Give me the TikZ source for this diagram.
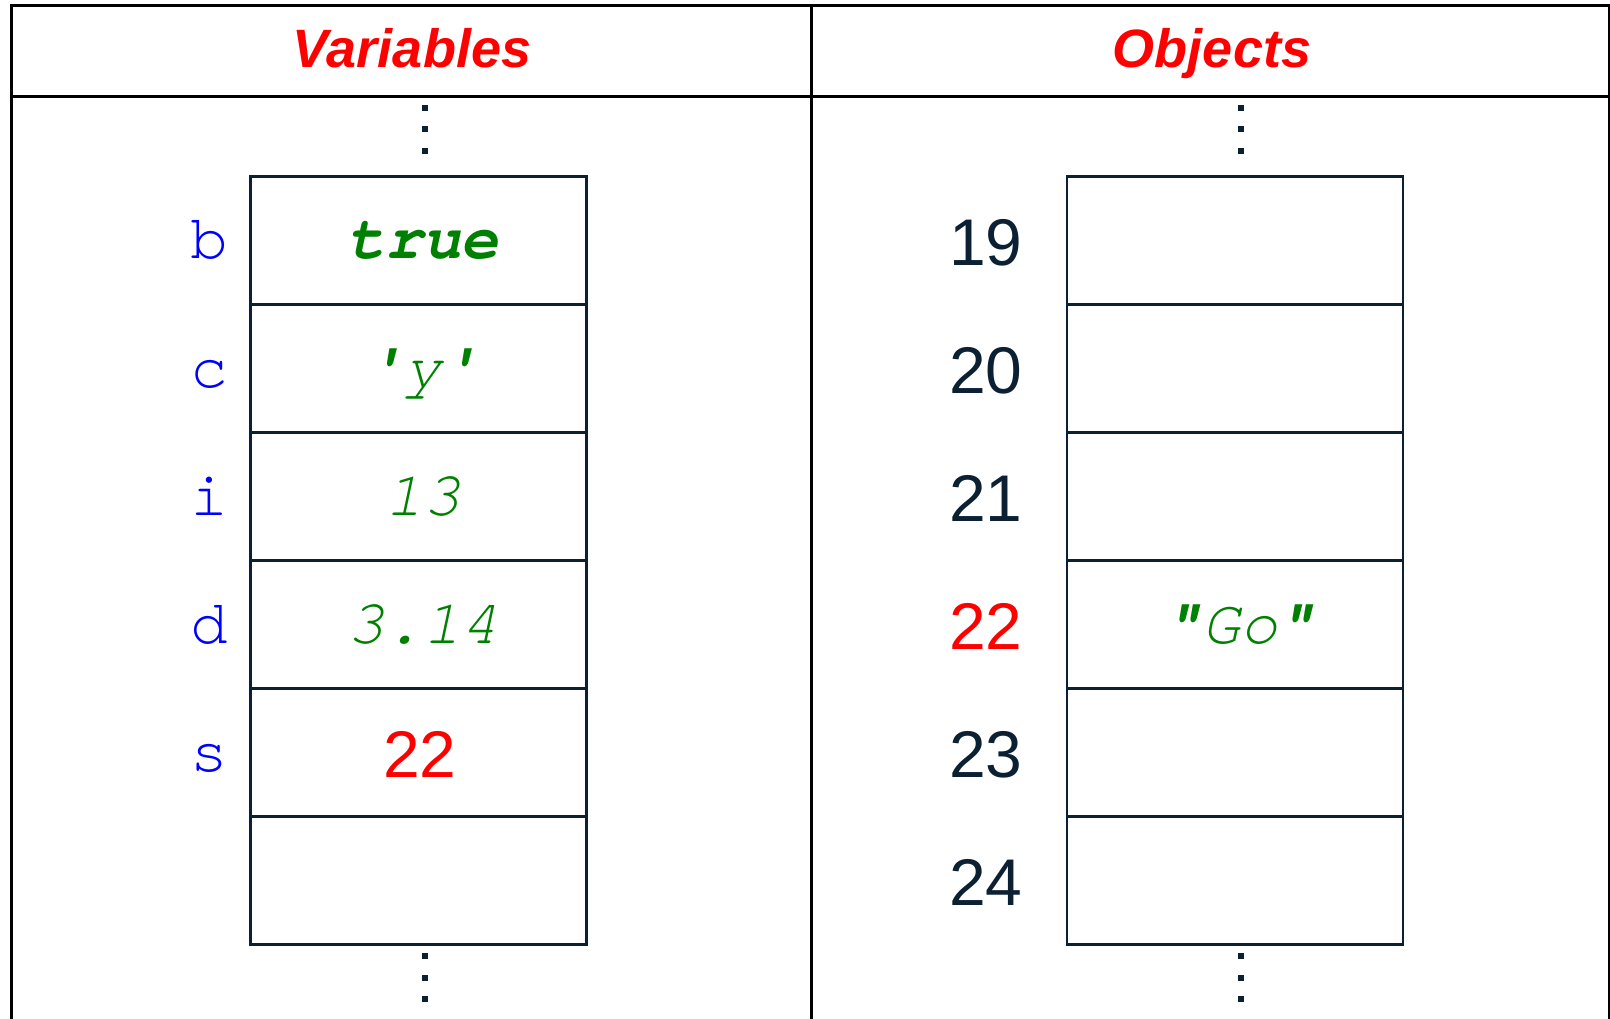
\documentclass[tikz,border=0pt]{standalone}
\usepackage{fontspec}
\usepackage{tikz}
\usetikzlibrary{positioning}
\setmainfont{Liberation Sans}
\setmonofont{texgyrecursor}[Extension=.otf, UprightFont=*-regular, BoldFont=*-bold, ItalicFont=*-italic, BoldItalicFont=*-bolditalic]
\definecolor{Cell_Ink}{HTML}{0C2034}
\definecolor{Name_Blue}{HTML}{0000FF}
\definecolor{Lit_Green}{HTML}{008000}
\definecolor{Ref_Red}{HTML}{FF0000}

\tikzset{
  header/.style={anchor=base, text=Ref_Red, font=\fontsize{54}{60}\selectfont\bfseries\itshape},
  varname/.style={anchor=base, text=Name_Blue, font=\fontsize{63}{70}\selectfont\ttfamily},
  literal/.style={anchor=base, text=Lit_Green, font=\fontsize{63}{70}\selectfont\ttfamily\itshape},
  address/.style={anchor=base, text=Cell_Ink, font=\fontsize{66}{72}\selectfont},
  memcell/.style={draw=Cell_Ink, line width=2.4pt},
}

\begin{document}
\begin{tikzpicture}[x=1pt, y=-1pt]
    \useasboundingbox (0,0) rectangle (1610,1019);
    % Frame
    \draw[line width=3pt] (11,1030) |- (1609,6) -- (1609,1030);
    \draw[line width=3pt] (11,97) -- (1609,97);
    \draw[line width=3pt] (811,6) -- (811,1030);
    \node[header] (varhead) at (412,68) {Variables};
    \node[header] (objhead) at (1212,68) {Objects};

    % Cells
    \foreach \k in {0,...,5} {
        \draw[memcell] (250.5,{176.5+128*\k}) rectangle (586.5,{304.5+128*\k});
        \draw[memcell] (1067,{176.5+128*\k}) rectangle (1403,{304.5+128*\k});
    }
    % Dots
    \foreach \y in {108,129.5,151,956,977.5,999} {
        \fill[Cell_Ink] (422,{\y-3}) rectangle (428,{\y+3});
        \fill[Cell_Ink] (1238,{\y-3}) rectangle (1244,{\y+3});
    }

    % Variables
    \node[varname] (name-b) at (209,259) {b};
    \node[varname] (name-c) at (209,387) {c};
    \node[varname] (name-i) at (209,515) {i};
    \node[varname] (name-d) at (209,643) {d};
    \node[varname] (name-s) at (209,771) {s};
    \node[literal] (val-b) at (423,259) {\bfseries true};
    \node[literal] (val-c) at (423,387) {{\bfseries'}y{\bfseries'}};
    \node[literal] (val-i) at (423,515) {13};
    \node[literal] (val-d) at (423,643) {3.14};
    \node[address, text=Ref_Red] (val-s) at (420,777.5) {22};

    % Objects
    \node[address] (addr-19) at (986,265.5) {19};
    \node[address] (addr-20) at (986,393.5) {20};
    \node[address] (addr-21) at (986,521.5) {21};
    \node[address, text=Ref_Red] (addr-22) at (986,649.5) {22};
    \node[address] (addr-23) at (986,777.5) {23};
    \node[address] (addr-24) at (986,905.5) {24};
    \node[literal] (obj-22) at (1240,643) {{\bfseries"}Go{\bfseries"}};
\end{tikzpicture}
\end{document}
